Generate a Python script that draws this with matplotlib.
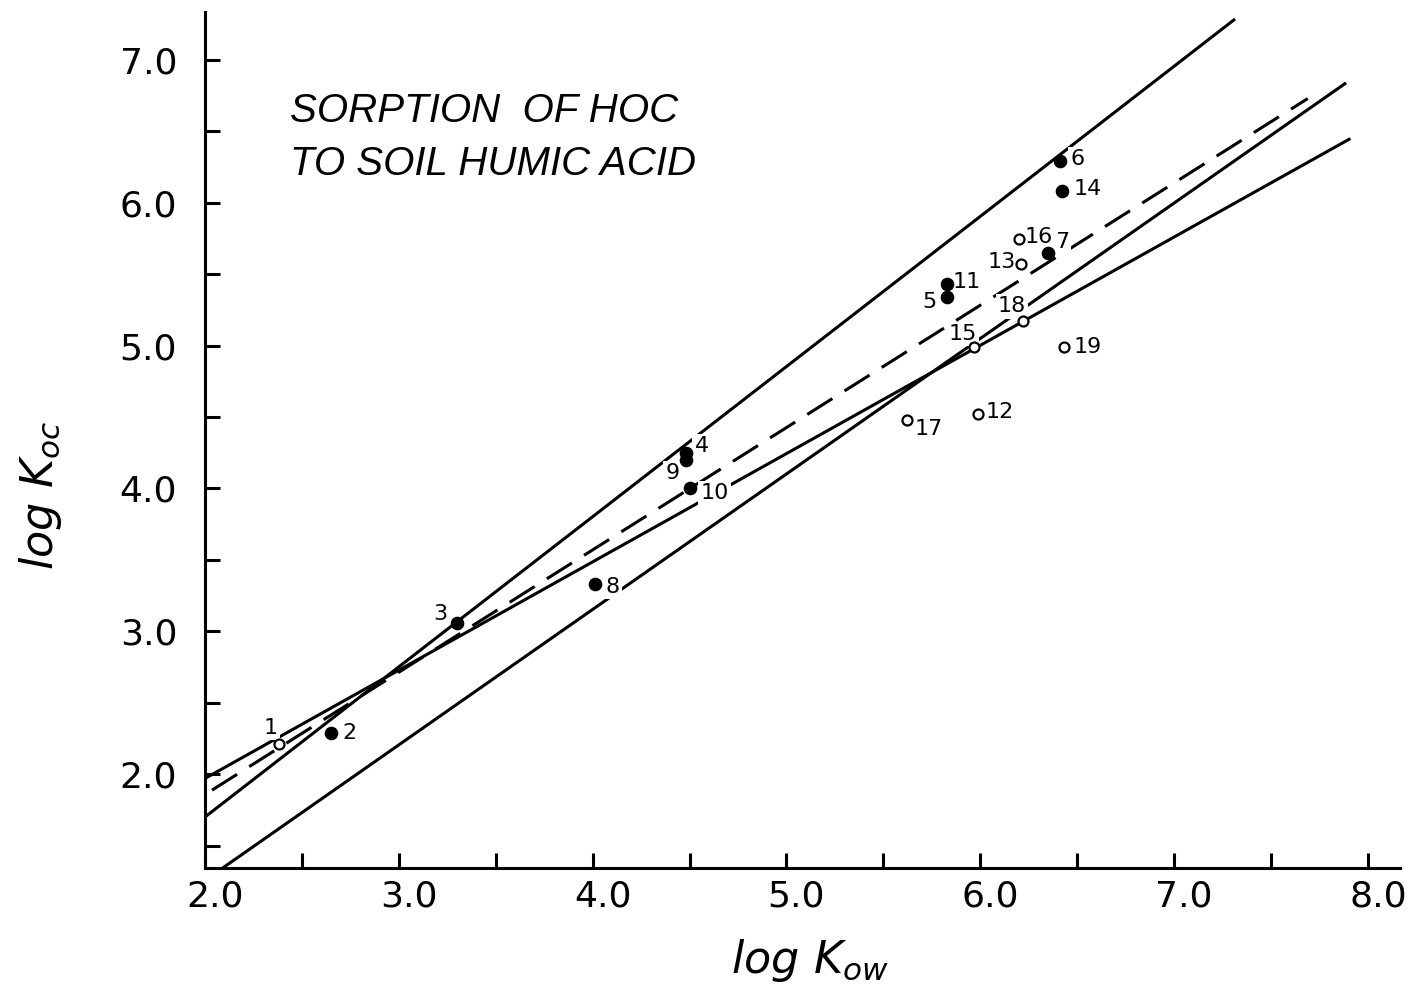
import matplotlib
matplotlib.use("Agg")
import matplotlib.pyplot as plt
import matplotlib.transforms as mtransforms

# points: log Kow, log Koc
labels = ['1', '2', '3', '4', '5', '6', '7', '8', '9', '10',
          '11', '12', '13', '14', '15', '16', '17', '18', '19']
log_kow = [2.38, 2.65, 3.30, 4.48, 5.83, 6.41, 6.35, 4.01, 4.48, 4.50,
           5.83, 5.99, 6.21, 6.42, 5.97, 6.20, 5.62, 6.22, 6.43]
log_koc = [2.21, 2.29, 3.06, 4.25, 5.34, 6.29, 5.65, 3.33, 4.20, 4.00,
           5.43, 4.52, 5.57, 6.08, 4.99, 5.75, 4.48, 5.17, 4.99]
filled = [False, True, True, True, True, True, True, True, True, True,
          True, False, False, True, False, False, False, False, False]
# label offsets in pixels (dx, dy up)
lab_dx = [-8, 18, -17, 16, -18, 18, 14, 18, -13, 25,
          19, 21, -19, 26, -12, 20, 22, -11, 24]
lab_dy = [16, 0, 9, 7, -5, 2, 11, -3, -13, -5,
          2, 2, 2, 2, 13, 2, -9, 15, 0]

# regression lines: (x0, y0, x1, y1)
line_a = (2.00, 1.70, 7.315, 7.287)
line_b = (2.088, 1.34, 7.888, 6.84)
line_c = (2.036, 1.888, 7.69, 6.73)   # dashed
line_d = (2.00, 1.97, 7.91, 6.45)

fig = plt.figure(figsize=(14.08, 9.88), dpi=100)
ax = fig.add_axes([205/1408, 1-868/988, (1400-205)/1408, (868-12)/988])

lw = 2.2
for ln in (line_a, line_b, line_d):
    ax.plot([ln[0], ln[2]], [ln[1], ln[3]], color='black', lw=lw,
            solid_capstyle='butt', zorder=2)
ax.plot([line_c[0], line_c[2]], [line_c[1], line_c[3]], color='black', lw=lw,
        dashes=(9.7, 4.7), zorder=2)

for x, y, f, t, dx, dy in zip(log_kow, log_koc, filled, labels, lab_dx, lab_dy):
    if f:
        ax.plot(x, y, 'o', ms=8.8, mfc='black', mec='black', zorder=5)
    else:
        ax.plot(x, y, 'o', ms=7.2, mfc='white', mec='black', mew=1.6, zorder=5)
    ax.annotate(t, (x, y), xytext=(dx, dy), textcoords='offset pixels',
                ha='center', va='center', fontsize=16, zorder=4,
                bbox=dict(boxstyle='square,pad=0.1', fc='white', ec='none'))

ax.set_xlim(2.0, 8.166)
ax.set_ylim(1.343, 7.336)
ax.set_xticks([2.0, 2.5, 3.0, 3.5, 4.0, 4.5, 5.0, 5.5, 6.0, 6.5, 7.0, 7.5, 8.0])
ax.set_xticklabels(['2.0', '', '3.0', '', '4.0', '', '5.0', '', '6.0', '', '7.0', '', '8.0'])
ax.set_yticks([1.5, 2.0, 2.5, 3.0, 3.5, 4.0, 4.5, 5.0, 5.5, 6.0, 6.5, 7.0])
ax.set_yticklabels(['', '2.0', '', '3.0', '', '4.0', '', '5.0', '', '6.0', '', '7.0'])
ax.tick_params(axis='both', direction='in', length=11, width=lw, labelsize=26)
ax.tick_params(axis='x', pad=8)
ax.tick_params(axis='y', pad=20)
ax.spines['top'].set_visible(False)
ax.spines['right'].set_visible(False)
ax.spines['left'].set_linewidth(lw)
ax.spines['bottom'].set_linewidth(lw)

shift = mtransforms.ScaledTranslation(10/100, 0, fig.dpi_scale_trans)
for lab in ax.get_xticklabels():
    lab.set_transform(lab.get_transform() + shift)

fig.text(40/1408, 1-495/988, r'$log\ K_{oc}$', rotation=90, ha='center',
         va='center', fontsize=32)
fig.text(810/1408, 1-960/988, r'$log\ K_{ow}$', ha='center', va='center',
         fontsize=32)

title_font = ['Liberation Sans', 'DejaVu Sans']
fig.text(290/1408, 1-122/988, 'SORPTION  OF HOC', family=title_font,
         style='italic', fontsize=29, va='baseline', ha='left')
fig.text(290/1408, 1-175/988, 'TO SOIL HUMIC ACID', family=title_font,
         style='italic', fontsize=29, va='baseline', ha='left')

fig.savefig('out.png', dpi=100)
